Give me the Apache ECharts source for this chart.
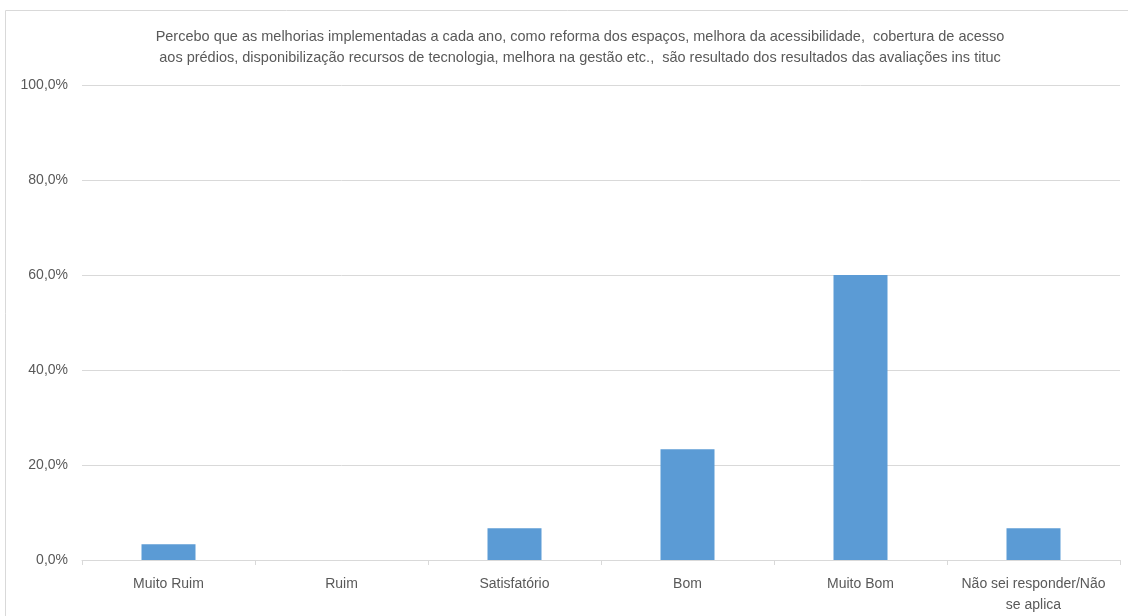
<!DOCTYPE html>
<html><head><meta charset="utf-8">
<script src="https://cdn.jsdelivr.net/npm/echarts@6/dist/echarts.min.js"></script>
<style>html,body{margin:0;padding:0;background:#fff}#c{width:1128px;height:616px}</style>
</head><body><div id="c"></div>
<script>
const categories = ['Muito Ruim','Ruim','Satisfatório','Bom','Muito Bom','Não sei responder/Não\nse aplica'];
const values = [3.33, 0, 6.67, 23.33, 60.0, 6.67];
const yTicks = [0, 20, 40, 60, 80, 100];
const titleText = 'Percebo que as melhorias implementadas a cada ano, como reforma dos espaços, melhora da acessibilidade,  cobertura de acesso\naos prédios, disponibilização recursos de tecnologia, melhora na gestão etc.,  são resultado dos resultados das avaliações ins tituc';

const chart = echarts.init(document.getElementById('c'), null, {renderer:'canvas'});
const font = '"Liberation Sans", sans-serif';
chart.setOption({
  animation:false,
  graphic:[{type:'rect',shape:{x:5.5,y:10.5,width:1140,height:620},style:{fill:'none',stroke:'#d9d9d9',lineWidth:1},silent:true,z:-1}],
  title:{text:titleText,left:575,textAlign:'center',top:21,textStyle:{fontFamily:font,fontSize:14.5,fontWeight:'normal',color:'#595959',lineHeight:21}},
  grid:{left:82,right:8,top:85,bottom:54},
  xAxis:{type:'category',data:categories,
    axisLine:{lineStyle:{color:'#d9d9d9'}},
    axisTick:{show:true,length:5,lineStyle:{color:'#d9d9d9'}},
    axisLabel:{fontFamily:font,fontSize:14,color:'#595959',margin:14,lineHeight:21,interval:0}},
  yAxis:{type:'value',min:0,max:100,interval:20,
    axisLabel:{formatter:v=>v.toFixed(1).replace('.',',')+'%',fontFamily:font,fontSize:14,color:'#595959',margin:14},
    axisLine:{show:false},axisTick:{show:false},
    splitLine:{lineStyle:{color:'#d9d9d9'}}},
  series:[{type:'bar',data:values,barWidth:54,itemStyle:{color:'#5b9bd5'}}]
});
</script>
</body></html>
